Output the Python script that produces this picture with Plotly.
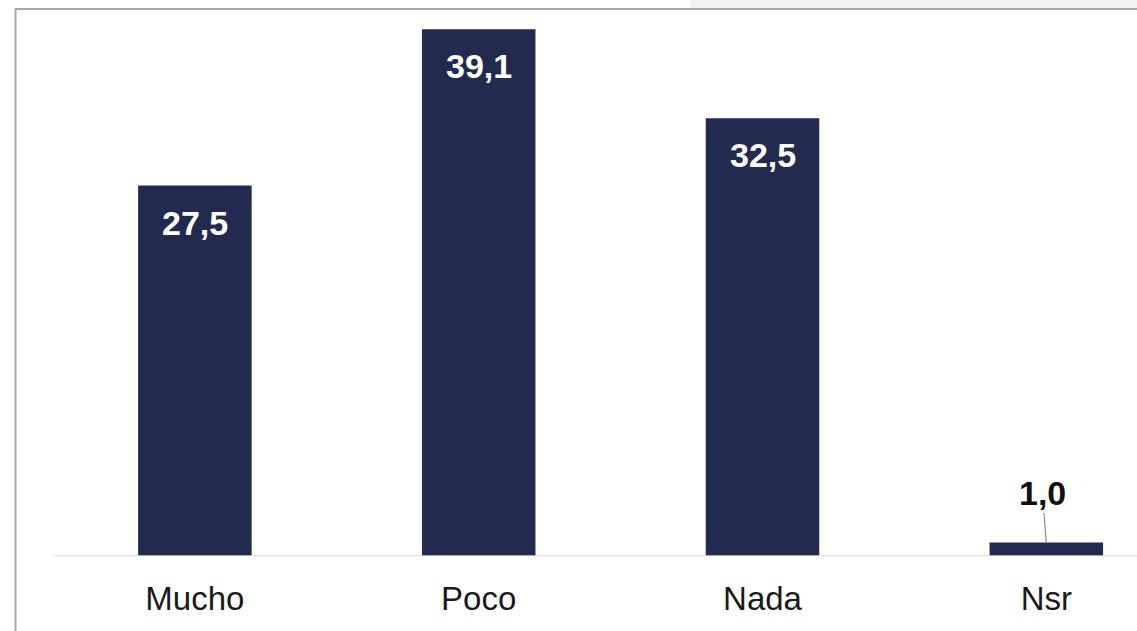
import plotly.graph_objects as go

categories = ["Mucho", "Poco", "Nada", "Nsr"]
values = [27.5, 39.1, 32.5, 1.0]
value_labels = ["27,5", "39,1", "32,5", "1,0"]

BAR = "#222A50"
FONT = "Liberation Sans, Arial, sans-serif"

fig = go.Figure()
fig.add_trace(go.Bar(
    x=categories, y=values, width=0.4,
    marker=dict(color=BAR, line=dict(width=0)),
    hoverinfo="skip",
))

annotations = []
for c, v, lab in zip(categories, values, value_labels):
    if v > 5:
        annotations.append(dict(
            x=c, y=v, xref="x", yref="y", text=lab, showarrow=False,
            yanchor="middle", yshift=-37,
            font=dict(family=FONT, size=34, color="white", weight="bold"),
        ))
    else:
        annotations.append(dict(
            x=c, y=v, xref="x", yref="y", text=lab, showarrow=True,
            arrowhead=0, arrowwidth=1.2, arrowcolor="#8c8c8c",
            ax=-4, ay=-50, standoff=0,
            font=dict(family=FONT, size=34, color="#111111", weight="bold"),
        ))

# page coords: plot area spans x 53..1137, y 10..556
def px(x):
    return (x - 53) / 1084

def py(y):
    return (556 - y) / 546

shapes = [
    dict(type="rect", xref="paper", yref="paper", x0=px(690), x1=1.01,
         y0=py(8), y1=py(-1), fillcolor="#f2f2f2", line=dict(width=0), layer="below"),
    dict(type="line", xref="paper", yref="paper", x0=px(15), x1=1.01,
         y0=py(9), y1=py(9), line=dict(color="#a8a8a8", width=2)),
    dict(type="line", xref="paper", yref="paper", x0=px(15.5), x1=px(15.5),
         y0=py(9), y1=py(640), line=dict(color="#a8a8a8", width=2)),
    dict(type="line", xref="paper", yref="y", x0=0, x1=1.01, y0=0, y1=0,
         line=dict(color="#d4d4d4", width=1.5)),
]

fig.update_layout(
    width=1137, height=631,
    margin=dict(l=53, r=0, t=10, b=75),
    paper_bgcolor="white", plot_bgcolor="white",
    showlegend=False,
    xaxis=dict(
        type="category", range=[-0.5, 3.3196], showgrid=False, zeroline=False,
        showline=False, ticks="outside", ticklen=13, tickcolor="rgba(0,0,0,0)",
        tickfont=dict(family=FONT, size=33, color="#1a1a1a"),
    ),
    yaxis=dict(range=[0, 40.53], visible=False, showgrid=False, zeroline=False),
    annotations=annotations,
    shapes=shapes,
)

fig.write_html(
    "out.html",
    config={"displayModeBar": False, "staticPlot": True},
    post_script="document.body.style.margin='0';document.body.style.overflow='hidden';",
)
